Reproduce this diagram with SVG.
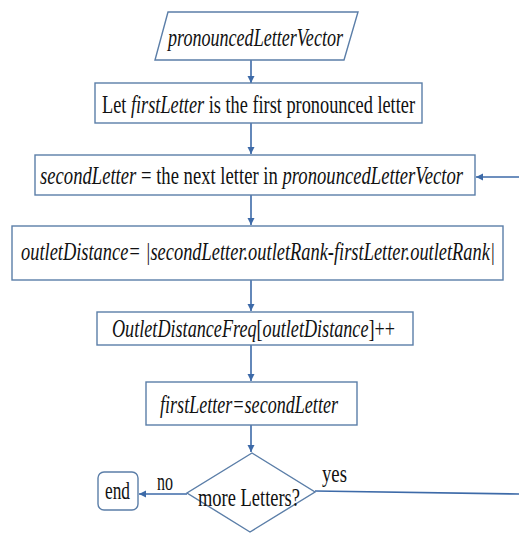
<svg xmlns="http://www.w3.org/2000/svg" width="519" height="533" viewBox="0 0 519 533">
<style>
.n{fill:#fff;stroke:#5b7ea8;stroke-width:1.4}
.t{font-family:"Liberation Serif","Times New Roman",serif;font-size:26px;fill:#111}
.i{font-style:italic}
.c{stroke:#3d6aa8;stroke-width:1.6;fill:none}
</style>
<defs>
<marker id="ah" viewBox="0 0 10 10" refX="10" refY="5" markerWidth="7" markerHeight="9" markerUnits="userSpaceOnUse" orient="auto">
<path d="M0,0 L10,5 L0,10 Z" fill="#3d6aa8"/>
</marker>
</defs>
<rect width="519" height="533" fill="#fff"/>
<g id="connectors">
<line class="c" x1="251" y1="60" x2="251" y2="83" marker-end="url(#ah)"/>
<line class="c" x1="251" y1="123" x2="251" y2="154" marker-end="url(#ah)"/>
<line class="c" x1="519" y1="177" x2="476" y2="177" marker-end="url(#ah)"/>
<line class="c" x1="251" y1="195" x2="251" y2="225" marker-end="url(#ah)"/>
<line class="c" x1="251" y1="280" x2="251" y2="311" marker-end="url(#ah)"/>
<line class="c" x1="251" y1="345" x2="251" y2="381" marker-end="url(#ah)"/>
<line class="c" x1="251" y1="425" x2="251" y2="452" marker-end="url(#ah)"/>
<line class="c" x1="187" y1="494" x2="139" y2="494" marker-end="url(#ah)"/>
<line class="c" x1="315" y1="491" x2="519" y2="494"/>
<text class="t" x="157" y="490" textLength="16" lengthAdjust="spacingAndGlyphs">no</text>
<text class="t" x="322" y="482" textLength="25" lengthAdjust="spacingAndGlyphs">yes</text>
</g>
<g id="input">
<polygon class="n" points="168,12 358,12 344,60 155,60"/>
<text class="t i" x="168" y="46" textLength="175" lengthAdjust="spacingAndGlyphs">pronouncedLetterVector</text>
</g>
<g id="init">
<rect class="n" x="95" y="83" width="327" height="40"/>
<text class="t" x="102" y="113" textLength="313" lengthAdjust="spacingAndGlyphs">Let <tspan class="i">firstLetter</tspan> is the first pronounced letter</text>
</g>
<g id="next">
<rect class="n" x="35" y="155" width="440" height="40"/>
<text class="t" x="40" y="184" textLength="423" lengthAdjust="spacingAndGlyphs"><tspan class="i">secondLetter</tspan> = the next letter in  <tspan class="i">pronouncedLetterVector</tspan></text>
</g>
<g id="distance">
<rect class="n" x="12" y="226" width="491" height="54"/>
<text class="t i" x="21" y="260" textLength="474" lengthAdjust="spacingAndGlyphs">outletDistance= |secondLetter.outletRank-firstLetter.outletRank|</text>
</g>
<g id="freq">
<rect class="n" x="97" y="312" width="316" height="33"/>
<text class="t" x="112" y="337" textLength="283" lengthAdjust="spacingAndGlyphs"><tspan class="i">OutletDistanceFreq</tspan>[<tspan class="i">outletDistance</tspan>]++</text>
</g>
<g id="assign">
<rect class="n" x="146" y="382" width="211" height="43"/>
<text class="t i" x="160" y="413" textLength="178" lengthAdjust="spacingAndGlyphs">firstLetter=secondLetter</text>
</g>
<g id="decision">
<polygon class="n" points="252,453 315,492 250,532 187,493"/>
<text class="t" x="198" y="506" textLength="102" lengthAdjust="spacingAndGlyphs">more Letters?</text>
</g>
<g id="end">
<rect class="n" x="98" y="472" width="40" height="38" rx="6"/>
<text class="t" x="105" y="499" textLength="25" lengthAdjust="spacingAndGlyphs">end</text>
</g>
</svg>
